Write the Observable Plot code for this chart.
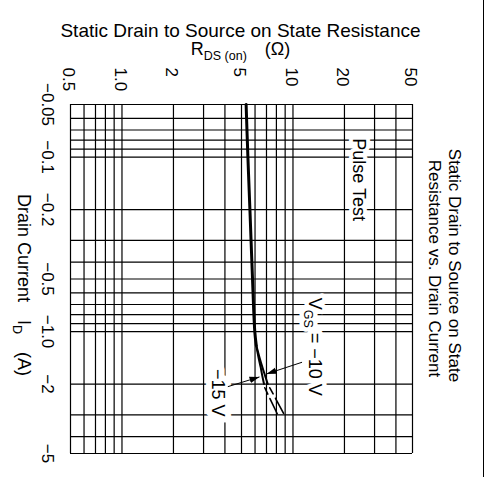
<!DOCTYPE html>
<html>
<head>
<meta charset="utf-8">
<script src="https://cdn.jsdelivr.net/npm/d3@7"></script>
<script src="https://cdn.jsdelivr.net/npm/@observablehq/plot@0.6"></script>
<style>
  html, body { margin: 0; padding: 0; background: #fff; overflow: hidden; }
  #wrap { position: relative; width: 490px; height: 477px; overflow: hidden; }
  #edge { position: absolute; left: 483px; top: 0; width: 1.3px; height: 477px; background: #000; }
  svg text { white-space: pre; }
</style>
</head>
<body>
<div id="wrap"><div id="chart"></div><div id="edge"></div></div>
<script>
// ---- data ----
const rdsTicks = [0.5, 1, 2, 5, 10, 20, 50];
const rdsTickLabels = ["0.5", "1.0", "2", "5", "10", "20", "50"];
const idTicks = [0.05, 0.1, 0.2, 0.5, 1, 2, 5];
const idTickLabels = ["\u22120.05", "\u22120.1", "\u22120.2", "\u22120.5", "\u22121.0", "\u22122", "\u22125"];
const rdsGrid = [0.5, 0.6, 0.7, 0.8, 0.9, 1, 2, 3, 4, 5, 6, 7, 8, 9, 10, 20, 30, 40, 50];
const idGrid = [0.05, 0.06, 0.07, 0.08, 0.09, 0.1, 0.2, 0.3, 0.4, 0.5, 0.6, 0.7, 0.8, 0.9, 1, 2, 3, 4, 5];

// common part of both curves (|ID| in A, RDS in ohm)
const commonId  = [0.05, 0.1, 0.2, 0.5, 1.0, 1.2];
const commonRds = [5.32, 5.45, 5.6, 5.8, 5.98, 6.1];
// VGS = -15 V branch
const vgs15Id  = [1.2, 1.4, 1.6, 1.8, 2.0];
const vgs15Rds = [6.1, 6.28, 6.47, 6.62, 6.77];
// VGS = -10 V branch
const vgs10Id  = [1.2, 1.4, 1.6, 1.8, 2.0];
const vgs10Rds = [6.1, 6.36, 6.62, 6.88, 7.12];
// dashed continuations
const dash15Id  = [2.1, 2.96];
const dash15Rds = [6.84, 8.09];
const dash10Id  = [2.1, 2.96];
const dash10Rds = [7.32, 8.84];

const titleText = "Static Drain to Source on State Resistance";
const unitText = "R_{DS (on)}\u2002\u2002(\u03A9)";
const sideTitle1 = "Static Drain to Source on State";
const sideTitle2 = "Resistance vs. Drain Current";
const yLabel = "Drain Current\u2002\u2002I_{D}\u2002\u2002(A)";
const pulseText = "Pulse Test";
const vgs10Text = "V_{GS} = \u221210 V";
const vgs15Text = "\u221215 V";

const font = "'Liberation Sans', Arial, Helvetica, sans-serif";

const chart = Plot.plot({
  width: 490,
  height: 477,
  marginLeft: 70,
  marginRight: 78,
  marginTop: 104,
  marginBottom: 24,
  style: {fontFamily: font, background: "white", color: "black", overflow: "visible"},
  x: {type: "log", domain: [0.5, 50], axis: null},
  y: {type: "log", domain: [0.05, 5], reverse: true, axis: null},
  marks: [
    Plot.ruleX(rdsGrid, {stroke: "black", strokeWidth: 1.2}),
    Plot.ruleY(idGrid, {stroke: "black", strokeWidth: 1.2}),

    // annotations with white halo that cuts the grid
    Plot.text([pulseText], {x: 24.4, y: 0.078, text: d => d, rotate: 90, textAnchor: "start", lineAnchor: "middle",
      fontSize: 18, fill: "black", stroke: "white", strokeWidth: 8}),
    Plot.text([vgs10Text], {x: 13.5, y: 0.64, text: d => d, rotate: 90, textAnchor: "start", lineAnchor: "middle",
      fontSize: 18, fill: "black", stroke: "white", strokeWidth: 9}),
    Plot.text([vgs15Text], {x: 3.61, y: 2.24, text: d => d, rotate: 90, textAnchor: "middle", lineAnchor: "middle",
      fontSize: 18, fill: "black", stroke: "white", strokeWidth: 12}),

    // curves
    Plot.line(commonId, {x: commonRds, y: commonId, stroke: "black", strokeWidth: 3, curve: "catmull-rom"}),
    Plot.line(vgs15Id, {x: vgs15Rds, y: vgs15Id, stroke: "black", strokeWidth: 2, curve: "catmull-rom"}),
    Plot.line(vgs10Id, {x: vgs10Rds, y: vgs10Id, stroke: "black", strokeWidth: 2, curve: "catmull-rom"}),
    Plot.line(dash15Id, {x: dash15Rds, y: dash15Id, stroke: "black", strokeWidth: 1.6, strokeDasharray: "7,5,17,5"}),
    Plot.line(dash10Id, {x: dash10Rds, y: dash10Id, stroke: "black", strokeWidth: 1.6, strokeDasharray: "7,5,17,5"}),

    // arrows from labels to curves
    Plot.link([0], {x1: 11.3, y1: 1.50, x2: 7.0, y2: 1.75, stroke: "black", strokeWidth: 1, markerEnd: "arrow"}),
    Plot.link([0], {x1: 4.16, y1: 2.07, x2: 6.37, y2: 1.82, stroke: "black", strokeWidth: 1, markerEnd: "arrow"}),

    // tick labels
    Plot.text(rdsTicks, {x: d => d, text: (d, i) => rdsTickLabels[i], frameAnchor: "top", dy: -37, dx: -2,
      rotate: 90, textAnchor: "start", lineAnchor: "middle", fontSize: 17, fill: "black"}),
    Plot.text(idTicks, {y: d => d, text: (d, i) => idTickLabels[i], frameAnchor: "left", dx: -23,
      rotate: 90, textAnchor: "middle", lineAnchor: "middle", fontSize: 17, fill: "black"}),

    // titles
    Plot.text([titleText], {text: d => d, frameAnchor: "top", dy: -74, dx: -1, lineAnchor: "middle", fontSize: 19, fill: "black"}),
    Plot.text([unitText], {text: d => d, frameAnchor: "top", dy: -55, dx: -1, lineAnchor: "middle", fontSize: 18, fill: "black"}),
    Plot.text([sideTitle1], {text: d => d, frameAnchor: "top-right", dx: 41.5, dy: 161, rotate: 90,
      textAnchor: "middle", lineAnchor: "middle", fontSize: 17, fill: "black"}),
    Plot.text([sideTitle2], {text: d => d, frameAnchor: "top-right", dx: 21.5, dy: 164, rotate: 90,
      textAnchor: "middle", lineAnchor: "middle", fontSize: 17, fill: "black"}),
    Plot.text([yLabel], {text: d => d, frameAnchor: "left", dx: -47, dy: 6, rotate: 90,
      textAnchor: "middle", lineAnchor: "middle", fontSize: 18, fill: "black"})
  ]
});

// subscripts: rewrite "_{...}" parts as smaller, lowered tspans
function applySubscripts(root, subSize, shift) {
  root.querySelectorAll("text").forEach(t => {
    const s = t.textContent;
    if (!s.includes("_{")) return;
    const parts = s.split(/(_\{[^}]*\})/).filter(p => p.length);
    while (t.firstChild) t.removeChild(t.firstChild);
    let down = false;
    parts.forEach(p => {
      const ts = document.createElementNS("http://www.w3.org/2000/svg", "tspan");
      if (p.startsWith("_{")) {
        ts.textContent = p.slice(2, -1);
        ts.setAttribute("font-size", subSize);
        ts.setAttribute("dy", shift);
        down = true;
      } else {
        ts.textContent = p;
        if (down) { ts.setAttribute("dy", -shift); down = false; }
      }
      t.appendChild(ts);
    });
  });
}
applySubscripts(chart, 12.5, 5);

// filled arrowheads
chart.querySelectorAll("marker").forEach(m => {
  m.setAttribute("viewBox", "-10 -4 10 8");
  m.setAttribute("markerUnits", "userSpaceOnUse");
  m.setAttribute("markerWidth", 10);
  m.setAttribute("markerHeight", 8);
  m.setAttribute("fill", "black");
  m.setAttribute("stroke", "none");
  while (m.firstChild) m.removeChild(m.firstChild);
  const p = document.createElementNS("http://www.w3.org/2000/svg", "path");
  p.setAttribute("d", "M-10,-3.2L0,0L-10,3.2Z");
  m.appendChild(p);
});

document.getElementById("chart").appendChild(chart);
</script>
</body>
</html>
